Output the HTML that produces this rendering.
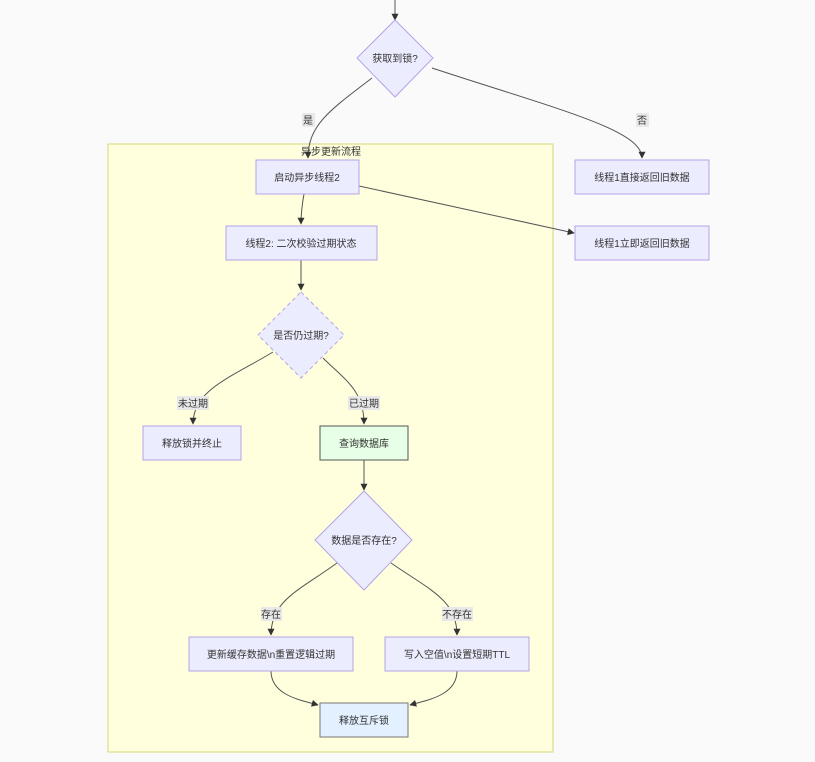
<!DOCTYPE html>
<html><head><meta charset="utf-8"><style>
html,body{margin:0;padding:0;background:#fafafa;}
svg text{font-family:"Liberation Sans","Noto Sans CJK SC",sans-serif;font-size:10px;fill:#333;}
</style></head><body>
<svg width="815" height="757" viewBox="0 0 815 757" xmlns="http://www.w3.org/2000/svg">
<defs><marker id="a" viewBox="0 0 10 10" refX="9" refY="5" markerWidth="7" markerHeight="7" orient="auto"><path d="M0,0L10,5L0,10z" fill="#333"/></marker></defs>
<rect x="108" y="144" width="445" height="608" fill="#ffffde" stroke="#d6d67a" stroke-width="1"/>
<text x="331" y="155" text-anchor="middle">异步更新流程</text>
<g fill="none" stroke="#555" stroke-width="1" marker-end="url(#a)">
<path d="M395,0L395,20"/>
<path d="M372,78C330,110 308,125 308,158"/>
<path d="M432,68C560,110 642,130 642,158"/>
<path d="M359,186L574,233"/>
<path d="M304,194C302,205 301,214 301,224"/>
<path d="M301,260L301,290"/>
<path d="M273,352C230,378 193,390 193,424"/>
<path d="M323,358C345,380 364,390 364,424"/>
<path d="M364,460L364,490"/>
<path d="M337,563C300,590 271,600 271,635"/>
<path d="M391,563C430,590 457,600 457,635"/>
<path d="M271,671C271,695 300,700 318,705"/>
<path d="M457,671C457,695 428,700 410,705"/>
</g>
<g font-size="10">
<rect x="302" y="113" width="13" height="14" fill="#e8e8e8"/><text x="308" y="124" text-anchor="middle">是</text>
<rect x="636" y="113" width="13" height="14" fill="#e8e8e8"/><text x="642" y="124" text-anchor="middle">否</text>
<rect x="177" y="396" width="32" height="14" fill="#e8e8e8"/><text x="193" y="407" text-anchor="middle">未过期</text>
<rect x="348" y="396" width="32" height="14" fill="#e8e8e8"/><text x="364" y="407" text-anchor="middle">已过期</text>
<rect x="261" y="607" width="21" height="14" fill="#e8e8e8"/><text x="271" y="618" text-anchor="middle">存在</text>
<rect x="442" y="607" width="31" height="14" fill="#e8e8e8"/><text x="457" y="618" text-anchor="middle">不存在</text>
</g>
<polygon points="395,20 433,58 395,97 357,58" fill="#ececff" stroke="#b4a3e6"/>
<text x="395" y="62" text-anchor="middle">获取到锁?</text>
<rect x="256" y="160" width="103" height="34" fill="#ececff" stroke="#b4a3e6"/>
<text x="307" y="181" text-anchor="middle">启动异步线程2</text>
<rect x="575" y="160" width="134" height="34" fill="#ececff" stroke="#b4a3e6"/>
<text x="642" y="181" text-anchor="middle">线程1直接返回旧数据</text>
<rect x="575" y="226" width="134" height="34" fill="#ececff" stroke="#b4a3e6"/>
<text x="642" y="247" text-anchor="middle">线程1立即返回旧数据</text>
<rect x="226" y="226" width="151" height="34" fill="#ececff" stroke="#b4a3e6"/>
<text x="301" y="247" text-anchor="middle">线程2: 二次校验过期状态</text>
<polygon points="301,292 344,335 301,378 258,335" fill="#ececff" stroke="#b4a3e6" stroke-dasharray="4,3"/>
<text x="301" y="339" text-anchor="middle">是否仍过期?</text>
<rect x="143" y="426" width="98" height="34" fill="#ececff" stroke="#b4a3e6"/>
<text x="192" y="447" text-anchor="middle">释放锁并终止</text>
<rect x="320" y="426" width="88" height="34" fill="#e6ffe6" stroke="#555"/>
<text x="364" y="447" text-anchor="middle">查询数据库</text>
<polygon points="364,491 412,540 364,590 315,540" fill="#ececff" stroke="#b4a3e6"/>
<text x="364" y="544" text-anchor="middle">数据是否存在?</text>
<rect x="189" y="637" width="164" height="34" fill="#ececff" stroke="#b4a3e6"/>
<text x="271" y="658" text-anchor="middle">更新缓存数据\n重置逻辑过期</text>
<rect x="385" y="637" width="144" height="34" fill="#ececff" stroke="#b4a3e6"/>
<text x="457" y="658" text-anchor="middle">写入空值\n设置短期TTL</text>
<rect x="320" y="703" width="88" height="34" fill="#e3f0ff" stroke="#777"/>
<text x="364" y="724" text-anchor="middle">释放互斥锁</text>
</svg>
</body></html>
